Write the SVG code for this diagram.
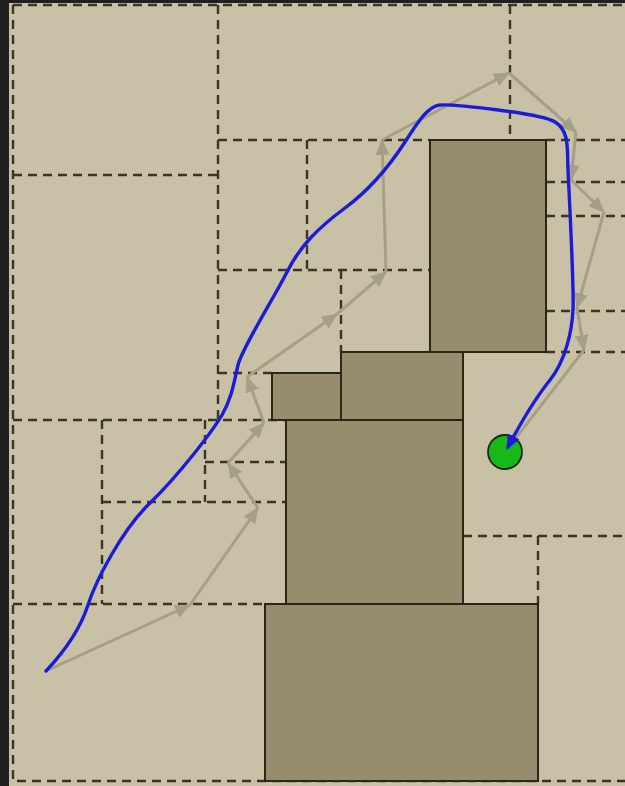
<svg xmlns="http://www.w3.org/2000/svg" width="625" height="786" viewBox="0 0 625 786">
<style>
.cell{stroke:#3a3528;stroke-width:2.4;stroke-dasharray:9 6;fill:none}
.obs{fill:#978c6d;stroke:#2a261a;stroke-width:2}
.step{stroke:#a69f87;stroke-width:3;fill:none;marker-end:url(#ga)}
.plan{stroke:#1c1cd8;stroke-width:3.4;fill:none;stroke-linejoin:round;stroke-linecap:round}
</style>
<defs>
<marker id="ga" markerWidth="16" markerHeight="14" refX="15" refY="7" orient="auto" markerUnits="userSpaceOnUse">
<path d="M0,0 L16,7 L0,14 Z" fill="#a69f87"/>
</marker>
<marker id="ba" markerWidth="15" markerHeight="13" refX="12" refY="6.5" orient="auto" markerUnits="userSpaceOnUse">
<path d="M0,0 L15,6.5 L0,13 Z" fill="#1c1cd8"/>
</marker>
</defs>
<rect x="0" y="0" width="625" height="786" fill="#1f1f1f"/>
<rect x="9" y="3" width="616" height="783" fill="#c9c1a5"/>
<g id="cells">
<path class="cell" d="M13,5 H625 M13,5 V781 H625"/>
<path class="cell" d="M13,175 H218 M218,5 V420 M218,140 H430 M546,140 H625 M510,5 V140 M307,140 V270 M218,270 H430 M341,270 V352 M218,373 H272"/>
<path class="cell" d="M546,182 H625 M546,216 H625 M546,311 H625 M546,352 H625"/>
<path class="cell" d="M13,420 H286 M102,420 V604 M205,420 V502 M205,462 H286 M102,502 H286 M13,604 H265"/>
<path class="cell" d="M463,536 H625 M538,536 V604"/>
</g>
<g id="obstacle1"><rect class="obs" x="430" y="140" width="116" height="212"/></g>
<g id="obstacle2"><rect class="obs" x="341" y="352" width="122" height="68"/></g>
<g id="obstacle3"><rect class="obs" x="272" y="373" width="69" height="47"/></g>
<g id="obstacle4"><rect class="obs" x="286" y="420" width="177" height="184"/></g>
<g id="obstacle5"><rect class="obs" x="265" y="604" width="273" height="177"/></g>
<g id="connectors">
<line class="step" x1="46" y1="671" x2="190" y2="605"/>
<line class="step" x1="190" y1="605" x2="258" y2="508"/>
<line class="step" x1="258" y1="508" x2="228" y2="463"/>
<line class="step" x1="228" y1="463" x2="264" y2="423"/>
<line class="step" x1="264" y1="423" x2="247" y2="377"/>
<line class="step" x1="247" y1="377" x2="337" y2="314"/>
<line class="step" x1="337" y1="314" x2="386" y2="272"/>
<line class="step" x1="386" y1="272" x2="382" y2="140"/>
<line class="step" x1="382" y1="140" x2="509" y2="73"/>
<line class="step" x1="509" y1="73" x2="576" y2="132"/>
<line class="step" x1="576" y1="132" x2="571" y2="180"/>
<line class="step" x1="571" y1="180" x2="604" y2="212"/>
<line class="step" x1="604" y1="212" x2="577" y2="308"/>
<line class="step" x1="577" y1="308" x2="584" y2="350"/>
<line stroke="#a69f87" stroke-width="3" x1="584" y1="350" x2="505" y2="452"/>
</g>
<g id="goal"><circle cx="505" cy="452" r="17" fill="#17b817" stroke="#1a2a12" stroke-width="1.8"/></g>
<g id="plan">
<path class="plan" marker-end="url(#ba)" d="M46,671 C62,654 80,630 88,605 S122,530 150,503 S212,432 222,415 S234,382 238,365 S274,298 287,272 S318,228 345,208 S392,162 405,142 S428,106 440,105 S540,113 555,122 S567,150 568,170 S574,290 573,310 S566,360 550,380 S518,428 508,447"/>
</g>
</svg>
